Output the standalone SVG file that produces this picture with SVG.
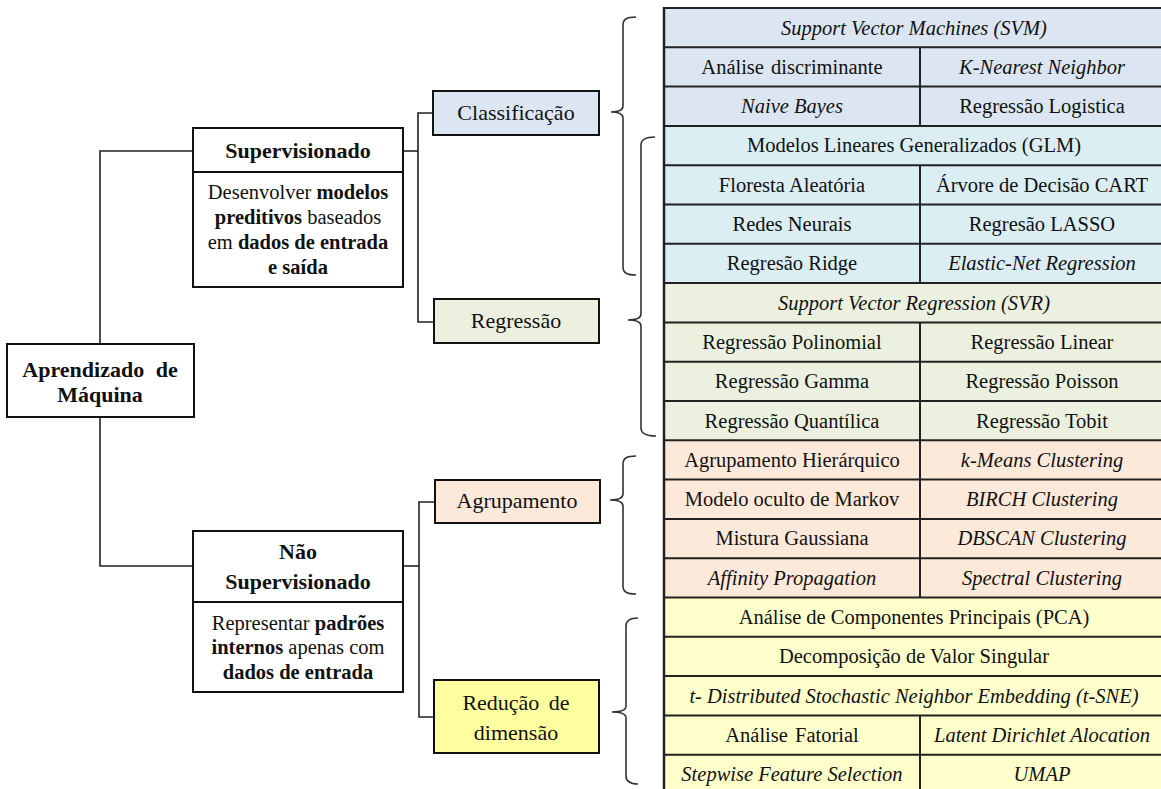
<svg xmlns="http://www.w3.org/2000/svg" width="1161" height="789" viewBox="0 0 1161 789">
  <style>
    text { font-family: "Liberation Serif", "Times New Roman", serif; fill: #111; }
    .t { font-size: 20.5px; text-anchor: middle; }
    .i { font-style: italic; }
    .h { font-size: 22px; font-weight: bold; text-anchor: middle; }
    .b { font-size: 20.5px; text-anchor: middle; }
    .c { font-size: 22px; text-anchor: middle; }
    .bd { font-weight: bold; }
    .box { stroke: #111; stroke-width: 2; }
    .conn { fill: none; stroke: #222; stroke-width: 1.6; }
    .brace { fill: none; stroke: #333; stroke-width: 1.6; }
    .grid { stroke: #222; stroke-width: 2; }
    .cls { fill: #dce6f2; }
    .shr { fill: #daeef3; }
    .reg { fill: #ebf1de; }
    .grp { fill: #fde9d9; }
    .dim { fill: #ffffcc; }
  </style>

  <!-- algorithm table -->
  <g id="table">
    <rect class="cls" x="664" y="8" width="500" height="117.9"/>
    <rect class="shr" x="664" y="125.9" width="500" height="157.2"/>
    <rect class="reg" x="664" y="283.1" width="500" height="157.2"/>
    <rect class="grp" x="664" y="440.3" width="500" height="157.2"/>
    <rect class="dim" x="664" y="597.5" width="500" height="196.5"/>
    <g class="grid">
      <line x1="664" y1="8" x2="1164" y2="8"/>
      <line x1="664" y1="47.3" x2="1164" y2="47.3"/>
      <line x1="664" y1="86.6" x2="1164" y2="86.6"/>
      <line x1="664" y1="125.9" x2="1164" y2="125.9"/>
      <line x1="664" y1="165.2" x2="1164" y2="165.2"/>
      <line x1="664" y1="204.5" x2="1164" y2="204.5"/>
      <line x1="664" y1="243.8" x2="1164" y2="243.8"/>
      <line x1="664" y1="283.1" x2="1164" y2="283.1"/>
      <line x1="664" y1="322.4" x2="1164" y2="322.4"/>
      <line x1="664" y1="361.7" x2="1164" y2="361.7"/>
      <line x1="664" y1="401" x2="1164" y2="401"/>
      <line x1="664" y1="440.3" x2="1164" y2="440.3"/>
      <line x1="664" y1="479.6" x2="1164" y2="479.6"/>
      <line x1="664" y1="518.9" x2="1164" y2="518.9"/>
      <line x1="664" y1="558.2" x2="1164" y2="558.2"/>
      <line x1="664" y1="597.5" x2="1164" y2="597.5"/>
      <line x1="664" y1="636.8" x2="1164" y2="636.8"/>
      <line x1="664" y1="676.1" x2="1164" y2="676.1"/>
      <line x1="664" y1="715.4" x2="1164" y2="715.4"/>
      <line x1="664" y1="754.7" x2="1164" y2="754.7"/>
      <line x1="664" y1="7" x2="664" y2="789" stroke-width="2.5"/>
      <line x1="920" y1="47.3" x2="920" y2="125.9"/>
      <line x1="920" y1="165.2" x2="920" y2="283.1"/>
      <line x1="920" y1="322.4" x2="920" y2="597.5"/>
      <line x1="920" y1="715.4" x2="920" y2="789"/>
    </g>

    <text class="t i" x="914" y="34.5">Support Vector Machines (SVM)</text>
    <text class="t" x="792" y="73.8" word-spacing="2">Análise discriminante</text>
    <text class="t i" x="1042" y="73.8">K-Nearest Neighbor</text>
    <text class="t i" x="792" y="113.1">Naive Bayes</text>
    <text class="t" x="1042" y="113.1">Regressão Logistica</text>
    <text class="t" x="914" y="152.4">Modelos Lineares Generalizados (GLM)</text>
    <text class="t" x="792" y="191.7">Floresta Aleatória</text>
    <text class="t" x="1042" y="191.7">Árvore de Decisão CART</text>
    <text class="t" x="792" y="231">Redes Neurais</text>
    <text class="t" x="1042" y="231">Regresão LASSO</text>
    <text class="t" x="792" y="270.3">Regresão Ridge</text>
    <text class="t i" x="1042" y="270.3">Elastic-Net Regression</text>
    <text class="t i" x="914" y="309.6">Support Vector Regression (SVR)</text>
    <text class="t" x="792" y="348.9">Regressão Polinomial</text>
    <text class="t" x="1042" y="348.9">Regressão Linear</text>
    <text class="t" x="792" y="388.2">Regressão Gamma</text>
    <text class="t" x="1042" y="388.2">Regressão Poisson</text>
    <text class="t" x="792" y="427.5">Regressão Quantílica</text>
    <text class="t" x="1042" y="427.5">Regressão Tobit</text>
    <text class="t" x="792" y="466.8">Agrupamento Hierárquico</text>
    <text class="t i" x="1042" y="466.8">k-Means Clustering</text>
    <text class="t" x="792" y="506.1">Modelo oculto de Markov</text>
    <text class="t i" x="1042" y="506.1">BIRCH Clustering</text>
    <text class="t" x="792" y="545.4">Mistura Gaussiana</text>
    <text class="t i" x="1042" y="545.4">DBSCAN Clustering</text>
    <text class="t i" x="792" y="584.7">Affinity Propagation</text>
    <text class="t i" x="1042" y="584.7">Spectral Clustering</text>
    <text class="t" x="914" y="624">Análise de Componentes Principais (PCA)</text>
    <text class="t" x="914" y="663.3">Decomposição de Valor Singular</text>
    <text class="t i" x="914" y="702.6">t- Distributed Stochastic Neighbor Embedding (t-SNE)</text>
    <text class="t" x="792" y="741.9" word-spacing="2">Análise Fatorial</text>
    <text class="t i" x="1042" y="741.9">Latent Dirichlet Alocation</text>
    <text class="t i" x="792" y="781.2">Stepwise Feature Selection</text>
    <text class="t i" x="1042" y="781.2">UMAP</text>
  </g>

  <!-- connectors and braces -->
  <g id="connectors">
    <path class="conn" d="M100,344 V151 H193"/>
    <path class="conn" d="M100,417 V566 H193"/>
    <path class="conn" d="M403,151 H418"/>
    <path class="conn" d="M433,113 H418 V322 H434"/>
    <path class="conn" d="M403,566 H419"/>
    <path class="conn" d="M435,502 H419 V717 H434"/>
    <path class="brace" d="M636,17 C627,17 623,19 623,25 L623,106 C623,110 620,112 611,112 C620,112 623,114 623,118 L623,267 C623,273 627,275 636,275"/>
    <path class="brace" d="M655,137 C646,137 641,139 641,145 L641,314 C641,318 638,320 628,320 C638,320 641,322 641,326 L641,428 C641,434 646,436 656,436"/>
    <path class="brace" d="M636,456 C627,456 623,458 623,464 L623,494 C623,498 620,500 610,500 C620,500 623,502 623,506 L623,586 C623,592 627,594 636,594"/>
    <path class="brace" d="M638,618 C630,618 626,620 626,626 L626,706 C626,710 622,712 612,712 C622,712 626,714 626,718 L626,776 C626,782 630,784 638,784"/>
  </g>

  <g id="root">
    <rect class="box" x="7" y="344" width="187" height="73" fill="#fff"/>
    <text class="h" x="100" y="377" word-spacing="6">Aprendizado de</text>
    <text class="h" x="100" y="402">Máquina</text>
  </g>

  <g id="supervisionado">
    <rect class="box" x="193" y="128" width="210" height="159" fill="#fff"/>
    <line class="box" x1="193" y1="172" x2="403" y2="172"/>
    <text class="h" x="298" y="158">Supervisionado</text>
    <text class="b" x="298" y="199">Desenvolver <tspan class="bd">modelos</tspan></text>
    <text class="b" x="298" y="224"><tspan class="bd">preditivos</tspan> baseados</text>
    <text class="b" x="298" y="249">em <tspan class="bd">dados de entrada</tspan></text>
    <text class="b" x="298" y="274"><tspan class="bd">e saída</tspan></text>
  </g>

  <g id="nao-supervisionado">
    <rect class="box" x="193" y="531" width="210" height="161" fill="#fff"/>
    <line class="box" x1="193" y1="602" x2="403" y2="602"/>
    <text class="h" x="298" y="559">Não</text>
    <text class="h" x="298" y="589">Supervisionado</text>
    <text class="b" x="298" y="630">Representar <tspan class="bd">padrões</tspan></text>
    <text class="b" x="298" y="654"><tspan class="bd">internos</tspan> apenas com</text>
    <text class="b" x="298" y="679"><tspan class="bd">dados de entrada</tspan></text>
  </g>

  <g id="classificacao">
    <rect class="box cls" x="433" y="91" width="166" height="44"/>
    <text class="c" x="516" y="120">Classificação</text>
  </g>

  <g id="regressao">
    <rect class="box reg" x="434" y="299" width="165" height="44"/>
    <text class="c" x="516" y="328">Regressão</text>
  </g>

  <g id="agrupamento">
    <rect class="box grp" x="435" y="480" width="165" height="43"/>
    <text class="c" x="517" y="508">Agrupamento</text>
  </g>

  <g id="reducao">
    <rect class="box" x="434" y="680" width="165" height="73" fill="#ffff9f"/>
    <text class="c" x="516" y="710" word-spacing="4">Redução de</text>
    <text class="c" x="516" y="740">dimensão</text>
  </g>
</svg>
